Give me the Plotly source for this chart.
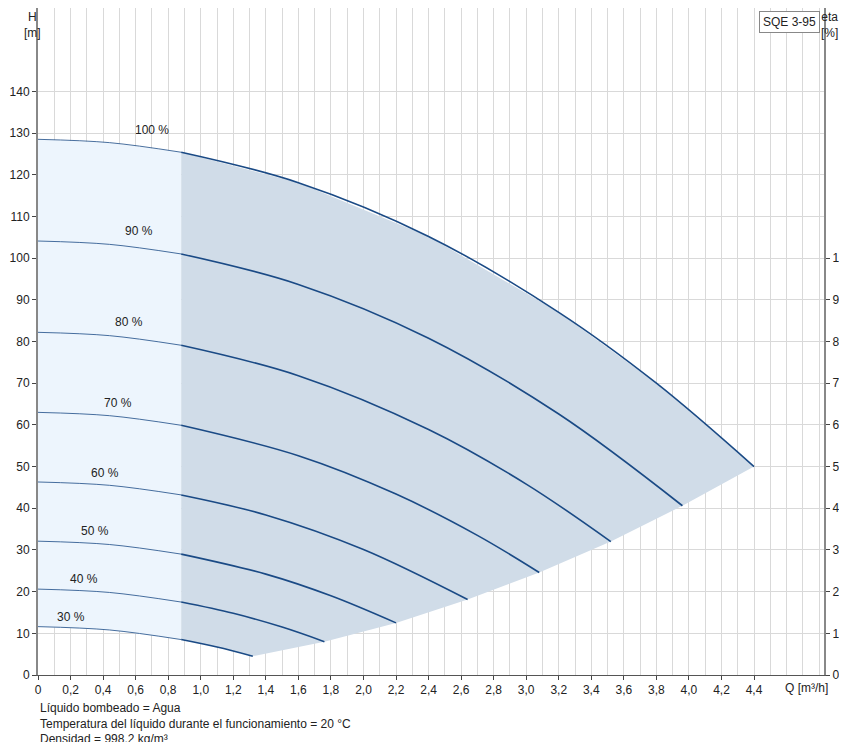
import plotly.graph_objects as go

# Pump curves SQE 3-95 (Q in m3/h, H in m)
speeds = ["100 %", "90 %", "80 %", "70 %", "60 %", "50 %", "40 %", "30 %"]
q_curves = [
    [0, 0.44, 0.88, 1.6, 2.4, 3.2, 3.8, 4.4],
    [0, 0.44, 0.88, 1.6, 2.4, 3.2, 3.96],
    [0, 0.44, 0.88, 1.6, 2.4, 3.0, 3.52],
    [0, 0.44, 0.88, 1.6, 2.2, 2.7, 3.08],
    [0, 0.44, 0.88, 1.4, 2.0, 2.64],
    [0, 0.44, 0.88, 1.4, 1.8, 2.2],
    [0, 0.44, 0.88, 1.2, 1.5, 1.76],
    [0, 0.44, 0.88, 1.1, 1.32],
]
h_curves = [
    [128.5, 127.7, 125.4, 118.1, 105.2, 87.0, 70.0, 50.0],
    [104.1, 103.3, 101.0, 93.7, 80.8, 62.6, 40.6],
    [82.2, 81.4, 79.1, 71.8, 58.9, 45.8, 32.0],
    [63.0, 62.2, 59.9, 52.6, 43.4, 33.5, 24.6],
    [46.3, 45.5, 43.2, 38.4, 30.1, 18.1],
    [32.1, 31.3, 29.0, 24.2, 19.0, 12.5],
    [20.6, 19.8, 17.5, 14.8, 11.5, 8.0],
    [11.6, 10.8, 8.5, 6.7, 4.5],
]
label_q = [0.70, 0.62, 0.56, 0.49, 0.41, 0.35, 0.28, 0.20]
label_h = [130.7, 106.5, 84.7, 65.2, 48.4, 34.5, 23.0, 13.9]
q_min_rec = 0.88

line_col = "#1a4a85"
fig = go.Figure()

top_q, top_h = q_curves[0], h_curves[0]
bot_q, bot_h = q_curves[-1], h_curves[-1]
i0 = top_q.index(q_min_rec)
j0 = bot_q.index(q_min_rec)

# light area left of min flow
lx = top_q[:i0 + 1] + bot_q[:j0 + 1][::-1]
ly = top_h[:i0 + 1] + bot_h[:j0 + 1][::-1]
fig.add_trace(go.Scatter(x=lx, y=ly, fill="toself", fillcolor="#edf5fd",
                         line=dict(width=0), mode="lines", hoverinfo="skip"))

# dark operating area
end_q = [q[-1] for q in q_curves]
end_h = [h[-1] for h in h_curves]
dx = top_q[i0:] + end_q[1:] + bot_q[j0:][::-1][1:]
dy = top_h[i0:] + end_h[1:] + bot_h[j0:][::-1][1:]
fig.add_trace(go.Scatter(x=dx, y=dy, fill="toself", fillcolor="#d0dce8",
                         line=dict(width=0), mode="lines", hoverinfo="skip"))

for q, h in zip(q_curves, h_curves):
    k = q.index(q_min_rec)
    fig.add_trace(go.Scatter(x=q[:k + 1], y=h[:k + 1], mode="lines",
                             line=dict(color=line_col, width=0.8, shape="spline")))
    fig.add_trace(go.Scatter(x=q[k:], y=h[k:], mode="lines",
                             line=dict(color=line_col, width=1.6, shape="spline")))

for s, x, y in zip(speeds, label_q, label_h):
    fig.add_annotation(x=x, y=y, text=s, showarrow=False, font=dict(size=12, color="#222"))

font = dict(family="Arial, Liberation Sans, sans-serif", size=12, color="#222")
xt = [round(i * 0.2, 1) for i in range(23)]
fig.update_xaxes(range=[0, 4.83], tickvals=xt, ticktext=[f"{v:.1f}".replace(".", ",") if v else "0" for v in xt],
                 showgrid=True, gridcolor="#d9d9d9", minor=dict(dtick=0.1, showgrid=True, gridcolor="#d9d9d9"),
                 showline=True, linecolor="#555", ticks="outside", ticklen=4, zeroline=False, automargin=False)
fig.update_yaxes(range=[0, 160], tickvals=list(range(0, 150, 10)),
                 showgrid=True, gridcolor="#d9d9d9", showline=True, linecolor="#888", linewidth=2,
                 ticks="outside", ticklen=4, zeroline=False, automargin=False)
fig.update_layout(
    yaxis2=dict(overlaying="y", side="right", range=[0, 160], tickvals=list(range(0, 110, 10)),
                showgrid=False, showline=True, linecolor="#888", linewidth=2, ticks="outside", ticklen=4,
                anchor="x", zeroline=False, automargin=False),
)
fig.add_trace(go.Scatter(x=[None], y=[None], yaxis="y2", showlegend=False))

fig.add_annotation(xref="paper", yref="paper", x=-0.02, y=1.0, yanchor="top", text="H<br>[m]",
                   showarrow=False, font=font)
fig.add_annotation(xref="paper", yref="paper", x=1.02, y=1.0, yanchor="top", text="eta<br>[%]",
                   showarrow=False, font=font)
fig.add_annotation(x=4.72, y=0, yshift=-13, text="Q [m³/h]", showarrow=False, font=font)
fig.add_annotation(xref="paper", yref="paper", x=0.995, y=0.995, xanchor="right", yanchor="top",
                   text="SQE 3-95", showarrow=False, font=font, bordercolor="#888", borderwidth=1,
                   bgcolor="white", borderpad=3)
fig.add_annotation(xref="paper", yref="paper", x=0.0, y=0, yshift=-24, xanchor="left", yanchor="top", align="left",
                   text="Líquido bombeado = Agua<br>Temperatura del líquido durante el funcionamiento = 20 °C<br>Densidad = 998.2 kg/m³",
                   showarrow=False, font=font)

fig.update_layout(width=847, height=742, margin=dict(l=30, r=31, t=0, b=75, autoexpand=False),
                  plot_bgcolor="white", paper_bgcolor="white", showlegend=False, font=font)
fig.write_html("out.html")
